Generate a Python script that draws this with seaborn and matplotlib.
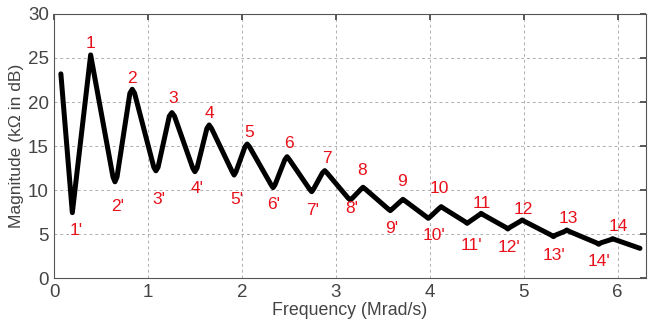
import matplotlib

matplotlib.use("Agg")

import matplotlib.pyplot as plt
import pandas as pd
import seaborn as sns

# curve: peaks, troughs and their shoulders
freq = [
    0.07, 0.192, 0.387,
    0.625, 0.646, 0.668, 0.805, 0.83, 0.855,
    1.06, 1.082, 1.105, 1.225, 1.252, 1.28,
    1.475, 1.497, 1.52, 1.625, 1.649, 1.675,
    1.895, 1.915, 1.935, 2.03, 2.054, 2.08,
    2.31, 2.33, 2.35, 2.455, 2.479, 2.505,
    2.72, 2.741, 2.76, 2.855, 2.88, 2.905,
    3.13, 3.153, 3.175, 3.265, 3.288, 3.315,
    3.555, 3.578, 3.6, 3.69, 3.713, 3.74,
    3.96, 3.983, 4.005, 4.098, 4.121, 4.148,
    4.375, 4.397, 4.42, 4.523, 4.546, 4.573,
    4.808, 4.83, 4.852, 4.96, 4.983, 5.01,
    5.293, 5.316, 5.338, 5.435, 5.458, 5.485,
    5.775, 5.798, 5.82, 5.925, 5.947, 5.975,
    6.238,
]
magnitude = [
    23.2, 7.45, 25.35,
    11.5, 10.95, 11.5, 21.0, 21.45, 21.0,
    12.6, 12.2, 12.6, 18.4, 18.8, 18.4,
    12.5, 12.1, 12.5, 17.0, 17.4, 17.0,
    12.1, 11.72, 12.1, 14.9, 15.24, 14.9,
    10.6, 10.29, 10.6, 13.45, 13.8, 13.45,
    10.1, 9.83, 10.1, 11.95, 12.22, 11.95,
    9.1, 8.89, 9.1, 10.1, 10.33, 10.1,
    7.88, 7.68, 7.88, 8.75, 8.96, 8.75,
    7.0, 6.81, 7.0, 7.93, 8.13, 7.93,
    6.42, 6.24, 6.42, 7.18, 7.37, 7.18,
    5.78, 5.6, 5.78, 6.45, 6.62, 6.45,
    4.9, 4.73, 4.9, 5.32, 5.48, 5.32,
    4.02, 3.86, 4.02, 4.38, 4.5, 4.38,
    3.4,
]

peak_labels = [str(i) for i in range(1, 15)]
peak_label_x = [0.387, 0.83, 1.266, 1.656, 2.08, 2.5, 2.9, 3.277, 3.706, 4.096, 4.553, 5.0, 5.479, 6.01]
peak_label_y = [26.7, 22.7, 20.4, 18.7, 16.5, 15.3, 13.6, 12.2, 11.0, 10.2, 8.5, 7.83, 6.8, 5.86]

trough_labels = [f"{i}'" for i in range(1, 15)]
trough_label_x = [0.231, 0.67, 1.117, 1.521, 1.94, 2.337, 2.749, 3.164, 3.589, 4.04, 4.44, 4.84, 5.327, 5.805]
trough_label_y = [5.48, 8.2, 8.89, 10.2, 8.89, 8.43, 7.75, 7.94, 5.67, 4.91, 3.67, 3.52, 2.64, 1.89]

x_ticks = [0, 1, 2, 3, 4, 5, 6]
y_ticks = [0, 5, 10, 15, 20, 25, 30]

sns.set_theme(style="white")
plt.rcParams["font.family"] = ["Liberation Sans", "DejaVu Sans"]

df = pd.DataFrame({"freq": freq, "magnitude": magnitude})

fig, ax = plt.subplots(figsize=(6.59, 3.24), dpi=100)
fig.subplots_adjust(left=0.0824, right=0.980, bottom=0.141, top=0.957)

sns.lineplot(data=df, x="freq", y="magnitude", sort=False, estimator=None,
             color="black", linewidth=3.6, ax=ax)
ax.lines[0].set_solid_joinstyle("round")
ax.lines[0].set_solid_capstyle("round")

for text, x, y in zip(peak_labels, peak_label_x, peak_label_y):
    ax.text(x, y, text, color="#e8101a", fontsize=12.5, ha="center", va="center")
for text, x, y in zip(trough_labels, trough_label_x, trough_label_y):
    ax.text(x, y, text, color="#e8101a", fontsize=12.5, ha="center", va="center")

ax.set_xlim(0, 6.3)
ax.set_ylim(0, 30)
ax.set_xticks(x_ticks)
ax.set_yticks(y_ticks)
ax.grid(True, color="#b0b0b0", linestyle=(0, (3, 3)), linewidth=0.7)
ax.tick_params(direction="in", length=4, top=True, right=True, labelsize=13.5,
               colors="#444444", pad=4)
for spine in ax.spines.values():
    spine.set_color("#555555")
    spine.set_linewidth(0.8)

ax.set_xlabel("Frequency (Mrad/s)", fontsize=12.8, color="#444444", labelpad=1)
ax.set_ylabel("Magnitude (kΩ in dB)", fontsize=12.6, color="#444444", labelpad=3)

fig.savefig("out.png", dpi=100)
plt.close(fig)
